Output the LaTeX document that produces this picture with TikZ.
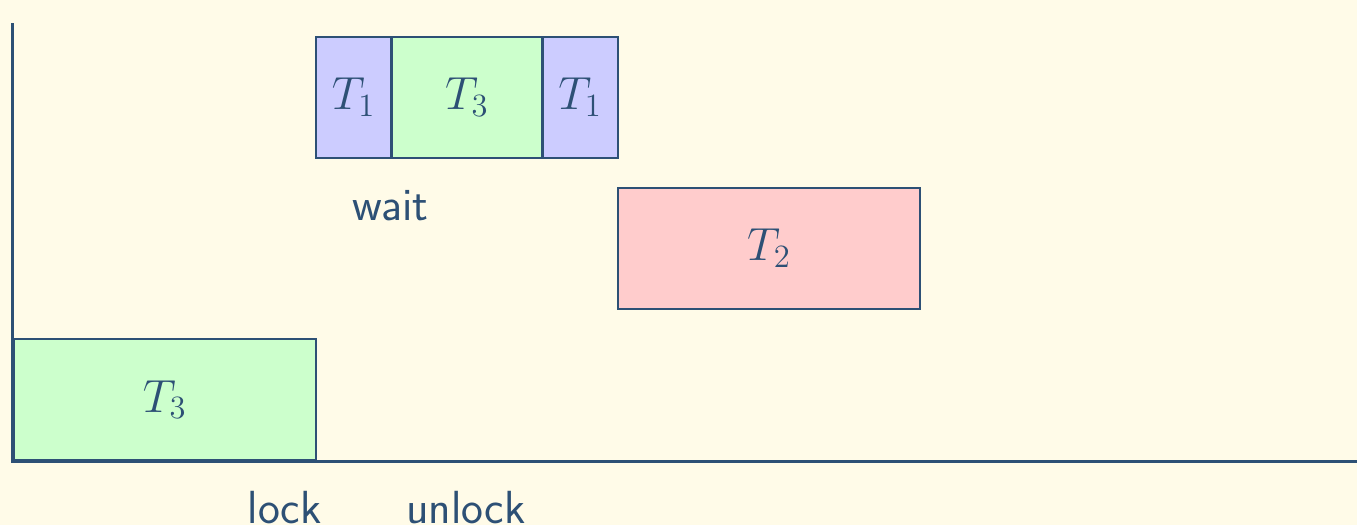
\RequirePackage{fix-cm}
\documentclass[tikz,border=0pt]{standalone}
\usetikzlibrary{positioning}
\definecolor{cline}{HTML}{2D5075}
\definecolor{cpaper}{HTML}{FFFBE8}
\definecolor{cblue}{HTML}{CCCCFF}
\definecolor{cgreen}{HTML}{CCFFCC}
\definecolor{cred}{HTML}{FFCCCC}
\tikzset{
  every picture/.style={font=\fontsize{17.5}{20}\selectfont, line width=0.8pt, text=cline},
  slot/.style={draw=cline, fill=#1, anchor=south west, minimum height=1.6cm, inner sep=0pt},
  slot/.default=cgreen,
  axis/.style={draw=cline, line width=1.1pt},
  tag/.style={font=\fontsize{17.5}{20}\selectfont\sffamily, text=cline},
}

\begin{document}
\begin{tikzpicture}
  \fill[cpaper] (-0.17,-0.85) rectangle (17.8,6.106);
  \useasboundingbox (-0.17,-0.85) rectangle (17.8,6.106);
  % one slot per running task: name/colour/start/width/level
  \foreach \n/\c/\t/\x/\w/\y in {lo/cgreen/3/0/4/0, aa/cblue/1/4/1/4, ab/cgreen/3/5/2/4,
                                  ac/cblue/1/7/1/4, hi/cred/2/8/4/2}
    \node[slot=\c, minimum width=\w cm] (\n) at (\x,\y) {$T_\t$};
  \coordinate (o) at (0,0);
  \coordinate (top) at (0,5.8);
  \coordinate (end) at (17.8,0);
  \draw[axis] (top) -- (o) -- (end);
  \node[tag] (wait) at (5,3.38) {wait};
  \node[tag] (lock) at (3.6,-0.62) {lock};
  \node[tag] (unlock) at (6.0,-0.62) {unlock};
\end{tikzpicture}
\end{document}
